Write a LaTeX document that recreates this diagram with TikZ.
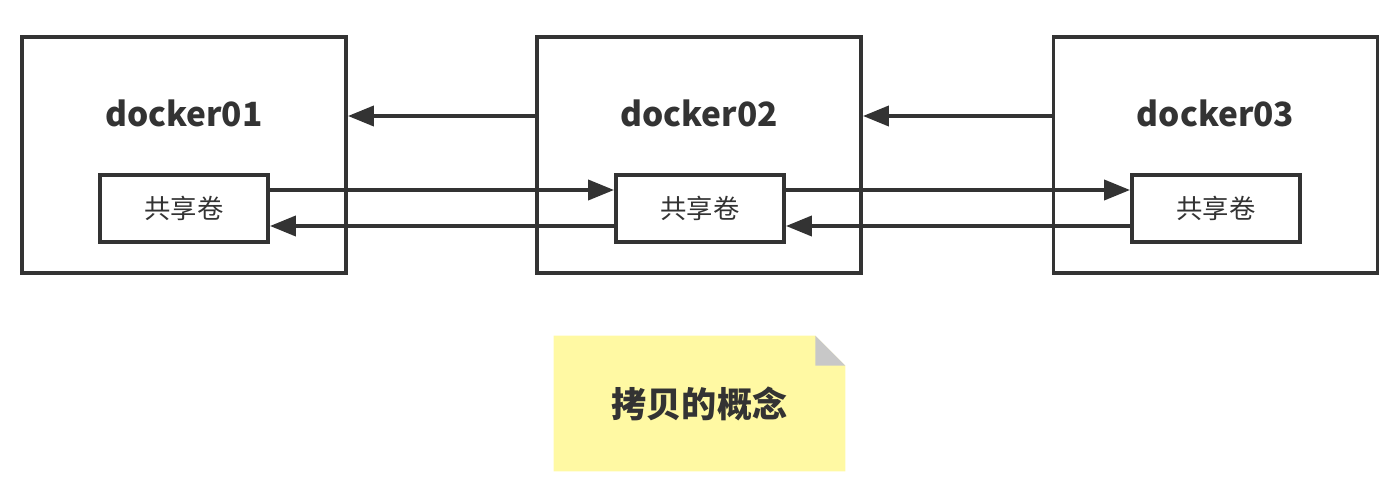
\documentclass[tikz,border=0pt]{standalone}
\usepackage{fontspec}
\setmainfont{Noto Sans CJK SC}
\usepackage{tikz}
\usetikzlibrary{arrows.meta, calc, positioning}

\definecolor{ink}{HTML}{333333}
\definecolor{notey}{HTML}{FFF9A3}
\definecolor{foldg}{HTML}{C8C8C8}

\begin{document}
\begin{tikzpicture}[
    host/.style={
        draw=ink,
        line width=2.2pt,
        minimum width=6.48cm,
        minimum height=4.72cm,
        inner sep=0pt
    },
    vol/.style={
        draw=ink,
        line width=2.2pt,
        fill=white,
        minimum width=3.36cm,
        minimum height=1.34cm,
        inner sep=0pt,
        text=ink,
        font=\fontsize{15}{17}\selectfont
    },
    title/.style={
        text=ink,
        font=\fontsize{19}{22}\selectfont\bfseries
    },
    arr/.style={
        -{Triangle[length=5.2mm,width=4mm]},
        line width=2.2pt,
        ink
    }
]
\useasboundingbox (0,0) rectangle (27.94,-9.56);

% Drei Container
\node[host] (d1) at (3.68,-3.10) {};
\node[host] (d2) at (13.98,-3.10) {};
\node[host] (d3) at (24.31,-3.10) {};

\node[title] (t1) at (3.68,-2.26) {docker01};
\node[title] (t2) at (13.98,-2.26) {docker02};
\node[title] (t3) at (24.31,-2.26) {docker03};

% Gemeinsame Volumes
\node[vol] (v1) at (3.68,-4.17) {共享卷};
\node[vol] (v2) at (14.0,-4.17) {共享卷};
\node[vol] (v3) at (24.32,-4.17) {共享卷};

% Container-Pfeile
\draw[arr] ([yshift=0.78cm]d2.west) -- ([yshift=0.78cm]d1.east);
\draw[arr] ([yshift=0.78cm]d3.west) -- ([yshift=0.78cm]d2.east);

% Volume-Pfeile
\draw[arr] ([yshift=0.37cm]v1.east) -- ([yshift=0.37cm]v2.west);
\draw[arr] ([yshift=-0.35cm]v2.west) -- ([yshift=-0.35cm]v1.east);
\draw[arr] ([yshift=0.37cm]v2.east) -- ([yshift=0.37cm]v3.west);
\draw[arr] ([yshift=-0.35cm]v3.west) -- ([yshift=-0.35cm]v2.east);

% Notiz
\node[
    minimum width=5.82cm,
    minimum height=2.7cm,
    inner sep=0pt
] (note) at (13.99,-8.07) {};
\fill[notey] (note.south west) -- (note.north west)
    -- ([xshift=-0.6cm]note.north east)
    -- ([yshift=-0.6cm]note.north east)
    -- (note.south east) -- cycle;
\fill[foldg] ([xshift=-0.6cm]note.north east)
    -- ([yshift=-0.6cm]note.north east)
    -- ([xshift=-0.6cm,yshift=-0.6cm]note.north east) -- cycle;
\node[title, font=\fontsize{20}{23}\selectfont\bfseries] (nt) at (note) {拷贝的概念};

\end{tikzpicture}
\end{document}
